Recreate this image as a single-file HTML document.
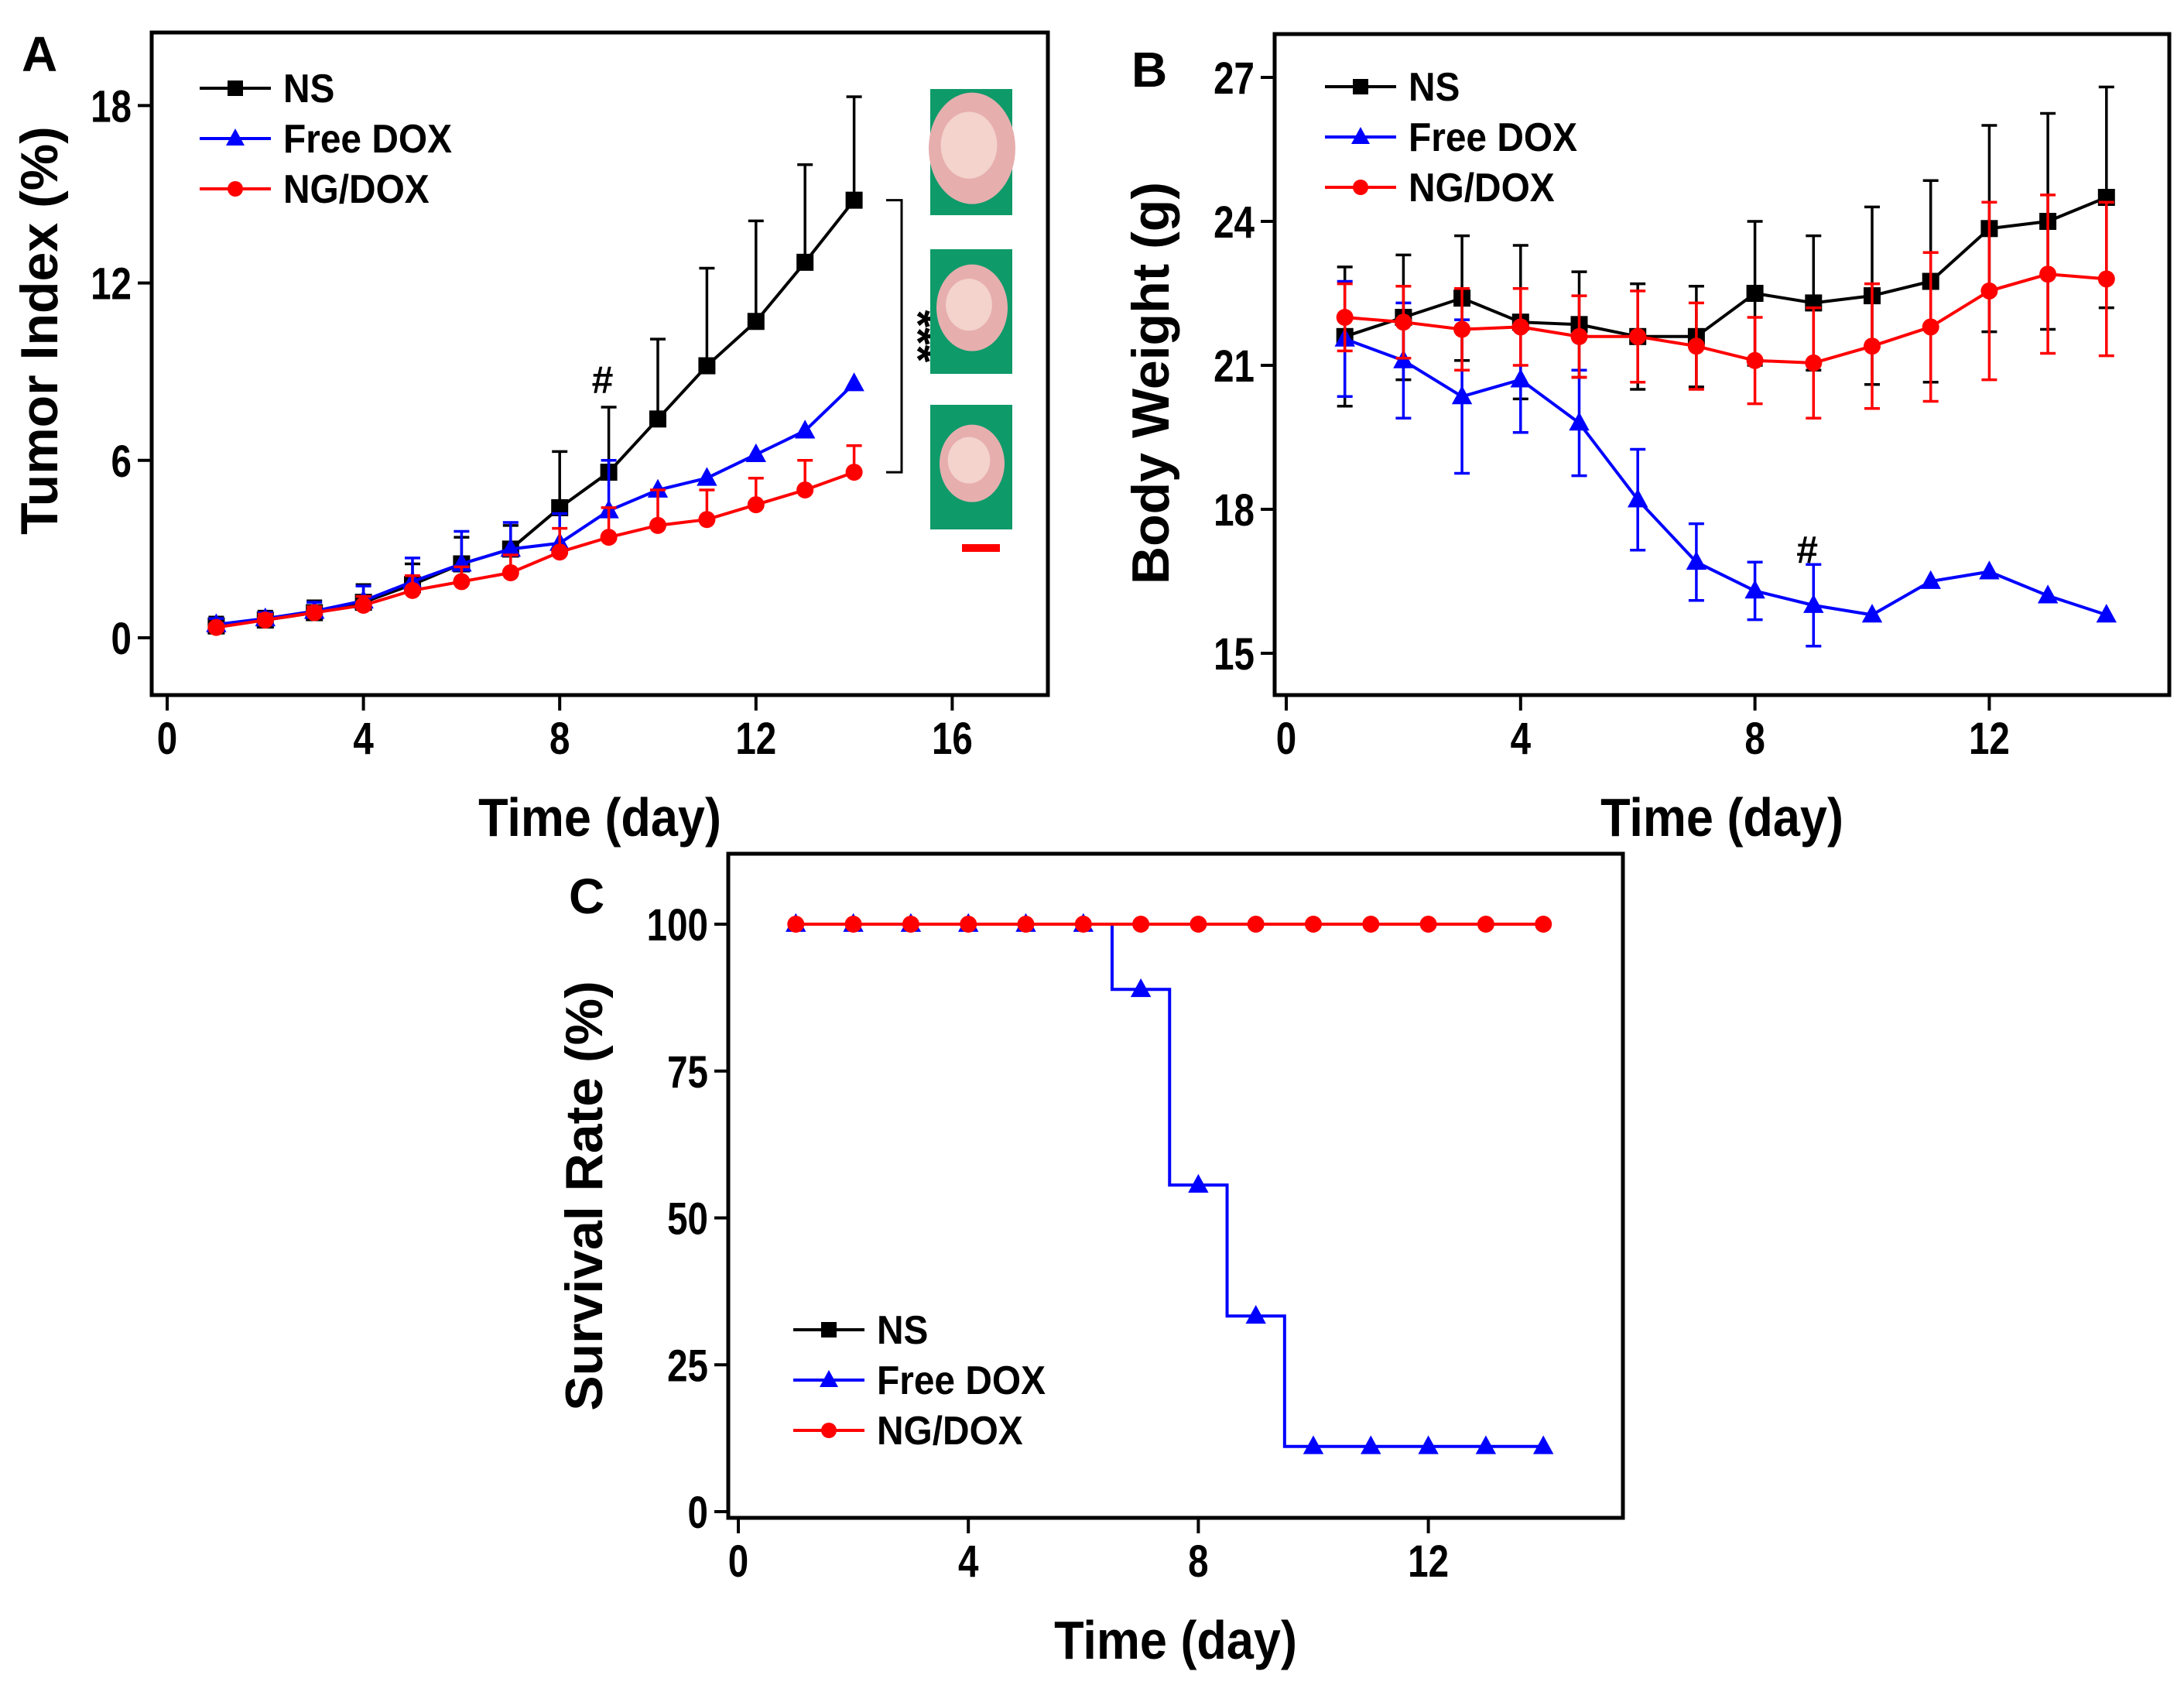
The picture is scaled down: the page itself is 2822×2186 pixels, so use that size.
<!DOCTYPE html>
<html><head><meta charset="utf-8"><style>
body{margin:0;background:#fff}
svg{display:block}
text{font-family:"Liberation Sans",sans-serif;font-weight:bold}
</style></head><body>
<svg id="fig" width="2822" height="2186" xmlns="http://www.w3.org/2000/svg"></svg>
<script>
const days=[1,2,3,4,5,6,7,8,9,10,11,12,13,14];
// Panel A: tumor index
const aNS=[0.4,0.6,0.85,1.2,1.8,2.5,3.0,4.4,5.6,7.4,9.2,10.7,12.7,14.8];
const aNSerr=[0.3,0.3,0.4,0.6,0.7,0.9,0.8,1.9,2.2,2.7,3.3,3.4,3.3,3.5];
const aFree=[0.45,0.65,0.9,1.25,1.9,2.5,3.0,3.2,4.3,5.0,5.4,6.2,7.0,8.6];
const aFreeErr=[0.2,0.2,0.3,0.5,0.8,1.1,0.9,1.0,1.7,0,0,0,0,0];
const aNG=[0.35,0.6,0.85,1.1,1.6,1.9,2.2,2.9,3.4,3.8,4.0,4.5,5.0,5.6];
const aNGerr=[0.1,0.2,0.2,0.3,0.5,0.5,0.6,0.8,1.0,1.2,1.0,0.9,1.0,0.9];
const aXTicks=[0,4,8,12,16];
const aYTicks=[0,6,12,18];
// Panel B: body weight
const bNS=[21.6,22.0,22.4,21.9,21.85,21.6,21.6,22.5,22.3,22.45,22.75,23.85,24.0,24.5];
const bNSerr=[1.45,1.3,1.3,1.6,1.1,1.1,1.05,1.5,1.4,1.85,2.1,2.15,2.25,2.3];
const bFree=[21.55,21.1,20.35,20.7,19.8,18.2,16.9,16.3,16.0,15.8,16.5,16.7,16.2,15.8];
const bFreeErr=[1.2,1.2,1.6,1.1,1.1,1.05,0.8,0.6,0.85,0,0,0,0,0];
const bNG=[22.0,21.9,21.75,21.8,21.6,21.6,21.4,21.1,21.05,21.4,21.8,22.55,22.9,22.8];
const bNGerr=[0.7,0.75,0.85,0.8,0.85,0.95,0.9,0.9,1.15,1.3,1.55,1.85,1.65,1.6];
const bXTicks=[0,4,8,12];
const bYTicks=[15,18,21,24,27];
// Panel C: survival
const cNS=[100,100,100,100,100,100,100,100,100,100,100,100,100,100];
const cFree=[100,100,100,100,100,100,88.9,55.6,33.3,11.1,11.1,11.1,11.1,11.1];
const cNG=[100,100,100,100,100,100,100,100,100,100,100,100,100,100];
const cXTicks=[0,4,8,12];
const cYTicks=[0,25,50,75,100];

const NS="http://www.w3.org/2000/svg";
const svg=document.getElementById('fig');
function el(tag,attrs,parent,txt){const e=document.createElementNS(NS,tag);for(const k in attrs)e.setAttribute(k,attrs[k]);if(txt!==undefined)e.textContent=txt;(parent||svg).appendChild(e);return e;}

function marker(g,type,x,y,c,s){
  let m;
  if(type==='sq') m=el('rect',{x:x-s,y:y-s,width:2*s,height:2*s,fill:c},g);
  else if(type==='tri') m=el('polygon',{points:`${x},${y-s*1.3} ${x-s*1.2},${y+s*0.9} ${x+s*1.2},${y+s*0.9}`,fill:c},g);
  else m=el('circle',{cx:x,cy:y,r:s,fill:c},g);
  
  
}

function panel(o){
  const g=el('g',{});
  
  
  const X=v=>o.x0+(v-o.xmin)*o.xs, Y=v=>o.y0-(v-o.ymin)*o.ys;
  const box=el('rect',{x:o.box[0],y:o.box[1],width:o.box[2]-o.box[0],height:o.box[3]-o.box[1],fill:'none',stroke:'#000','stroke-width':5},g);
  
  o.xt.forEach(t=>{el('line',{x1:X(t),x2:X(t),y1:o.box[3],y2:o.box[3]+20,stroke:'#000','stroke-width':4},g);
    const tl=el('text',{x:0,y:0,'font-size':58,'text-anchor':'middle',transform:`translate(${X(t)},${o.box[3]+76}) scale(0.82,1)`},g,t);
    });
  o.yt.forEach(t=>{el('line',{x1:o.box[0]-18,x2:o.box[0],y1:Y(t),y2:Y(t),stroke:'#000','stroke-width':4},g);
    const tl=el('text',{x:0,y:0,'font-size':58,'text-anchor':'end',transform:`translate(${o.box[0]-26},${Y(t)+21}) scale(0.82,1)`},g,t);
    });
  const xt=el('text',{x:0,y:0,'font-size':70,'text-anchor':'middle',transform:`translate(${(o.box[0]+o.box[2])/2+o.xtOff},${o.box[3]+182}) scale(0.9,1)`},g,'Time (day)');
  
  const yt=el('text',{x:0,y:0,'font-size':68,'text-anchor':'middle',transform:`translate(${o.ytx},${o.yty}) rotate(-90)`},g,o.ytitle);
  
  const lt=el('text',{x:o.lbl[0],y:o.lbl[1],'font-size':64},g,o.letter);
  
  o.series.forEach(s=>{
    const sg=el('g',{},g);
    
    
    if(s.err) days.forEach((d,i)=>{ if(s.err[i]>0){
      const x=X(d),y1=Y(s.vals[i]-(o.bothErr?s.err[i]:0)),y2=Y(s.vals[i]+s.err[i]);
      el('line',{x1:x,x2:x,y1:y1,y2:y2,stroke:s.c,'stroke-width':3.5},sg);
      el('line',{x1:x-10,x2:x+10,y1:y2,y2:y2,stroke:s.c,'stroke-width':3.5},sg);
      if(o.bothErr) el('line',{x1:x-10,x2:x+10,y1:y1,y2:y1,stroke:s.c,'stroke-width':3.5},sg);}});
    let d='';
    if(o.step){days.forEach((dd,i)=>{const x=X(dd),y=Y(s.vals[i]);
      if(i===0)d+=`M${x},${y}`;else{const xm=X(dd-0.5);d+=` L${xm},${Y(s.vals[i-1])} L${xm},${y} L${x},${y}`;}});}
    else days.forEach((dd,i)=>{d+=(i?' L':'M')+X(dd)+','+Y(s.vals[i]);});
    const p=el('path',{d:d,fill:'none',stroke:s.c,'stroke-width':4},sg);
    
    days.forEach((dd,i)=>marker(sg,s.m,X(dd),Y(s.vals[i]),s.c,s.ms||11));
  });
  o.series.forEach((s,i)=>{
    const lg=el('g',{},g);
    
    
    const y=o.leg[1]+i*65;
    el('line',{x1:o.leg[0],x2:o.leg[0]+92,y1:y,y2:y,stroke:s.c,'stroke-width':4},lg);
    marker(lg,s.m,o.leg[0]+46,y,s.c,10);
    el('text',{x:0,y:0,'font-size':52,transform:`translate(${o.leg[0]+108},${y+18}) scale(0.92,1)`},lg,s.label);
  });
  return {g,X,Y};
}

const A=panel({name:'panel-a-tumor-index',box:[196,42,1354,898],x0:216,xmin:0,xs:63.4,y0:824,ymin:0,ys:38.2,
  xt:aXTicks,yt:aYTicks,ytitle:'Tumor Index (%)',ytx:74,yty:427,xtOff:0,letter:'A',lbl:[28,92],leg:[258,114],
  series:[{key:'ns',vals:aNS,err:aNSerr,c:'#000',m:'sq',label:'NS'},{key:'free-dox',vals:aFree,err:aFreeErr,c:'#0000ff',m:'tri',label:'Free DOX'},{key:'ng-dox',vals:aNG,err:aNGerr,c:'#ff0000',m:'ci',label:'NG/DOX'}]});
let t=el('text',{x:A.X(9)-22,y:A.Y(7.8)-18,'font-size':50,'font-weight':'normal','font-family':'Liberation Serif'},svg,'#');

let br=el('path',{d:`M1145,${A.Y(14.8)} L1165,${A.Y(14.8)} L1165,${A.Y(5.6)} L1145,${A.Y(5.6)}`,fill:'none',stroke:'#000','stroke-width':3});

t=el('text',{x:0,y:0,'font-size':58,'text-anchor':'middle',transform:`translate(1166,${(A.Y(14.8)+A.Y(5.6))/2}) rotate(90)`},svg,'***');

[[115,278,56,72],[322,483,46,56],[523,684,42,50]].forEach((r,i)=>{
  const g=el('g',{});
  
  
  const h=r[1]-r[0], cy=r[0]+h*0.47;
  el('rect',{x:1202,y:r[0],width:106,height:h,fill:'#0f9a6a'},g);
  el('ellipse',{cx:1256,cy:cy,rx:r[2],ry:r[3],fill:'#e7aeae'},g);
  el('ellipse',{cx:1252,cy:cy-4,rx:r[2]*0.65,ry:r[3]*0.6,fill:'#f3d3cc'},g);
});
t=el('rect',{x:1243,y:703,width:49,height:10,fill:'#ff0000'});


const B=panel({name:'panel-b-body-weight',box:[1647,44,2803,898],x0:1662,xmin:0,xs:75.7,y0:844,ymin:15,ys:62,bothErr:true,
  xt:bXTicks,yt:bYTicks,ytitle:'Body Weight (g)',ytx:1510,yty:495,xtOff:0,letter:'B',lbl:[1462,112],leg:[1712,112],
  series:[{key:'ns',vals:bNS,err:bNSerr,c:'#000',m:'sq',label:'NS'},{key:'free-dox',vals:bFree,err:bFreeErr,c:'#0000ff',m:'tri',label:'Free DOX'},{key:'ng-dox',vals:bNG,err:bNGerr,c:'#ff0000',m:'ci',label:'NG/DOX'}]});
t=el('text',{x:B.X(9)-22,y:B.Y(17.2)+20,'font-size':50,'font-weight':'normal','font-family':'Liberation Serif'},svg,'#');


panel({name:'panel-c-survival',box:[941,1103,2097,1961],x0:954,xmin:0,xs:74.3,y0:1953,ymin:0,ys:7.59,step:true,
  xt:cXTicks,yt:cYTicks,ytitle:'Survival Rate (%)',ytx:778,yty:1545,xtOff:0,letter:'C',lbl:[735,1180],leg:[1025,1718],
  series:[{key:'ns',vals:cNS,c:'#000',m:'sq',ms:7,label:'NS'},{key:'free-dox',vals:cFree,c:'#0000ff',m:'tri',label:'Free DOX'},{key:'ng-dox',vals:cNG,c:'#ff0000',m:'ci',label:'NG/DOX'}]});
</script>
</body></html>
